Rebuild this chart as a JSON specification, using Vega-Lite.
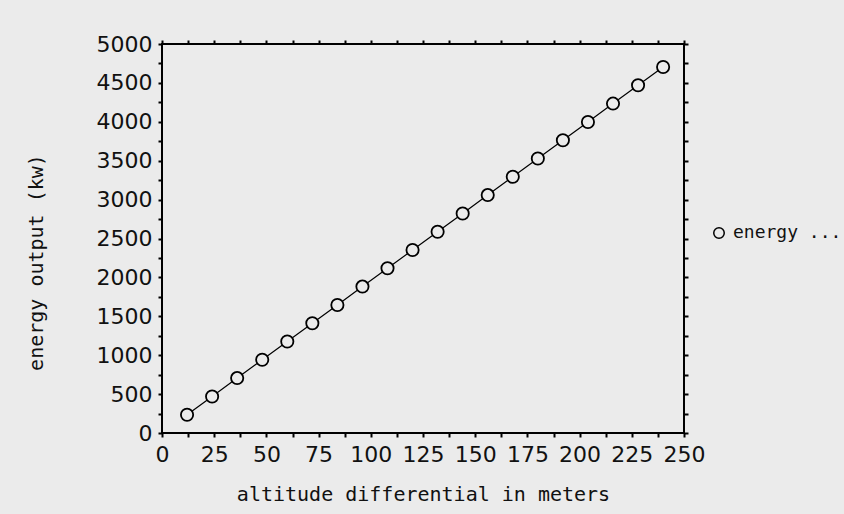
{
  "$schema": "https://vega.github.io/schema/vega-lite/v6.json",
  "width": 522,
  "height": 389,
  "autosize": {"type": "none"},
  "padding": {"left": 162, "top": 44, "right": 160, "bottom": 81},
  "background": "#ebebeb",
  "config": {
    "view": {"stroke": "#000000", "strokeWidth": 2, "fill": "#ebebeb"},
    "axis": {
      "domain": false,
      "grid": false,
      "ticks": true,
      "tickColor": "#000000",
      "tickWidth": 2,
      "tickSize": 4,
      "labelFont": "DejaVu Sans",
      "labelFontSize": 22,
      "labelColor": "#111111",
      "titleFont": "DejaVu Sans Mono",
      "titleFontSize": 20,
      "titleFontWeight": "normal",
      "titleColor": "#111111"
    }
  },
  "data": {
    "values": [
      {"altitude": 12, "energy": 235, "series": "energy output (kw)"},
      {"altitude": 24, "energy": 470, "series": "energy output (kw)"},
      {"altitude": 36, "energy": 706, "series": "energy output (kw)"},
      {"altitude": 48, "energy": 941, "series": "energy output (kw)"},
      {"altitude": 60, "energy": 1176, "series": "energy output (kw)"},
      {"altitude": 72, "energy": 1411, "series": "energy output (kw)"},
      {"altitude": 84, "energy": 1646, "series": "energy output (kw)"},
      {"altitude": 96, "energy": 1882, "series": "energy output (kw)"},
      {"altitude": 108, "energy": 2117, "series": "energy output (kw)"},
      {"altitude": 120, "energy": 2352, "series": "energy output (kw)"},
      {"altitude": 132, "energy": 2587, "series": "energy output (kw)"},
      {"altitude": 144, "energy": 2822, "series": "energy output (kw)"},
      {"altitude": 156, "energy": 3058, "series": "energy output (kw)"},
      {"altitude": 168, "energy": 3293, "series": "energy output (kw)"},
      {"altitude": 180, "energy": 3528, "series": "energy output (kw)"},
      {"altitude": 192, "energy": 3763, "series": "energy output (kw)"},
      {"altitude": 204, "energy": 3998, "series": "energy output (kw)"},
      {"altitude": 216, "energy": 4234, "series": "energy output (kw)"},
      {"altitude": 228, "energy": 4469, "series": "energy output (kw)"},
      {"altitude": 240, "energy": 4704, "series": "energy output (kw)"}
    ]
  },
  "layer": [
    {
      "mark": {"type": "line", "color": "#000000", "strokeWidth": 1.2},
      "encoding": {
        "x": {
          "field": "altitude", "type": "quantitative",
          "scale": {"domain": [0, 250], "nice": false},
          "axis": {
            "orient": "bottom",
            "title": "altitude differential in meters",
            "values": [0, 12.5, 25, 37.5, 50, 62.5, 75, 87.5, 100, 112.5, 125, 137.5, 150, 162.5, 175, 187.5, 200, 212.5, 225, 237.5, 250],
            "labelExpr": "datum.value % 25 == 0 ? datum.label : ''",
            "labelPadding": 7,
            "labelFlush": false,
            "labelOverlap": false,
            "titlePadding": 19
          }
        },
        "y": {
          "field": "energy", "type": "quantitative",
          "scale": {"domain": [0, 5000], "nice": false},
          "axis": {
            "orient": "left",
            "title": "energy output (kw)",
            "values": [0, 250, 500, 750, 1000, 1250, 1500, 1750, 2000, 2250, 2500, 2750, 3000, 3250, 3500, 3750, 4000, 4250, 4500, 4750, 5000],
            "labelExpr": "datum.value % 500 == 0 ? datum.label : ''",
            "format": "d",
            "labelPadding": 6,
            "labelFlush": false,
            "labelOverlap": false,
            "titlePadding": 50,
            "titleY": 218
          }
        }
      }
    },
    {
      "mark": {"type": "point", "shape": "circle", "filled": false, "fill": "#ebebeb", "strokeWidth": 1.8, "size": 150, "opacity": 1},
      "encoding": {
        "x": {
          "field": "altitude", "type": "quantitative",
          "axis": {
            "orient": "top",
            "title": null,
            "labels": false,
            "values": [0, 12.5, 25, 37.5, 50, 62.5, 75, 87.5, 100, 112.5, 125, 137.5, 150, 162.5, 175, 187.5, 200, 212.5, 225, 237.5, 250]
          }
        },
        "y": {
          "field": "energy", "type": "quantitative",
          "axis": {
            "orient": "right",
            "title": null,
            "labels": false,
            "values": [0, 250, 500, 750, 1000, 1250, 1500, 1750, 2000, 2250, 2500, 2750, 3000, 3250, 3500, 3750, 4000, 4250, 4500, 4750, 5000]
          }
        },
        "stroke": {
          "field": "series", "type": "nominal",
          "scale": {"range": ["#000000"]},
          "legend": {
            "title": null,
            "orient": "none",
            "legendX": 548,
            "legendY": 180,
            "padding": 0,
            "symbolType": "circle",
            "symbolSize": 110,
            "symbolStrokeWidth": 1.5,
            "symbolFillColor": "#ebebeb",
            "labelFont": "DejaVu Sans Mono",
            "labelFontSize": 18,
            "labelColor": "#111111",
            "labelOffset": 5,
            "labelLimit": 200,
            "labelExpr": "'energy ...'"
          }
        }
      }
    }
  ]
}
